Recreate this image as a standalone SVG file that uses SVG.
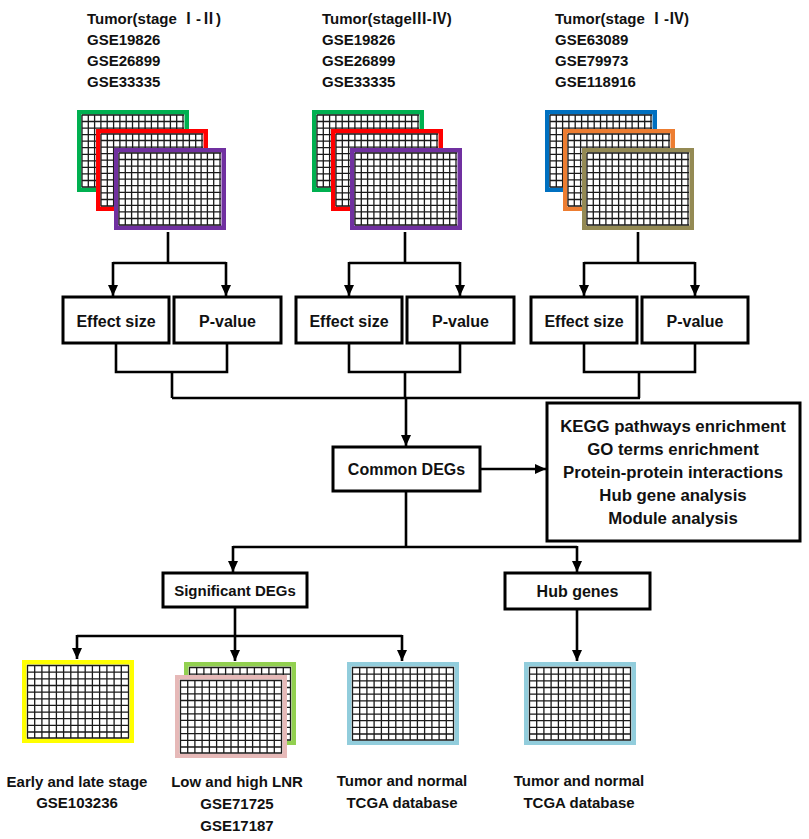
<svg xmlns="http://www.w3.org/2000/svg" xmlns:xlink="http://www.w3.org/1999/xlink" width="809" height="839" viewBox="0 0 809 839">
<style>
text{font-family:"Liberation Sans","Noto Sans CJK SC",Arial,sans-serif;font-weight:bold;fill:#111;}
.lbl{font-size:15px;}
.box{fill:#fff;stroke:#000;stroke-width:3;}
.bt{font-size:16px;text-anchor:middle;}
.kt{font-size:16.8px;text-anchor:middle;}
.c{fill:none;stroke:#000;stroke-width:2.6;}
.a{fill:none;stroke:#000;stroke-width:2.6;marker-end:url(#ah);}
.gl{fill:none;stroke:#1a1a1a;stroke-width:1.3;}
.fr{fill:#fff;stroke:currentColor;stroke-width:4.5;}
</style>
<defs>
<marker id="ah" markerUnits="userSpaceOnUse" markerWidth="11" markerHeight="10" viewBox="0 0 11 10" refX="11" refY="5" orient="auto">
<path d="M0,0 L11,5 L0,10 z" fill="#000"/>
</marker>
<symbol id="g16" viewBox="0 0 112 82">
<rect class="fr" x="2.25" y="2.25" width="107.5" height="77.5"/>
<path class="gl" d="M5,5V77M11.3,5V77M17.6,5V77M23.9,5V77M30.2,5V77M36.6,5V77M42.9,5V77M49.2,5V77M55.5,5V77M61.8,5V77M68.1,5V77M74.4,5V77M80.8,5V77M87.1,5V77M93.4,5V77M99.7,5V77M106,5V77M5,5H107M5,11.5H107M5,18.1H107M5,24.6H107M5,31.2H107M5,37.7H107M5,44.3H107M5,50.8H107M5,57.4H107M5,63.9H107M5,70.5H107M5,77H107"/>
</symbol>
<symbol id="g14" viewBox="0 0 112 83">
<rect class="fr" x="2.25" y="2.25" width="107.5" height="78.5"/>
<path class="gl" d="M5.5,5V78M12.7,5V78M19.9,5V78M27.1,5V78M34.4,5V78M41.6,5V78M48.8,5V78M56,5V78M63.2,5V78M70.4,5V78M77.6,5V78M84.9,5V78M92.1,5V78M99.3,5V78M106.5,5V78M5,5.5H107M5,12.2H107M5,18.8H107M5,25.5H107M5,32.1H107M5,38.8H107M5,45.4H107M5,52.1H107M5,58.7H107M5,65.4H107M5,72H107M5,78H107"/>
</symbol>
</defs>
<rect width="809" height="839" fill="#fff"/>

<g id="set1">
<text class="lbl" x="87" y="24">Tumor(stage Ⅰ-Ⅱ)</text>
<text class="lbl" x="87" y="45">GSE19826</text>
<text class="lbl" x="87" y="66">GSE26899</text>
<text class="lbl" x="87" y="87">GSE33335</text>
<use xlink:href="#g16" x="77" y="110" width="112" height="82" color="#00B050"/>
<use xlink:href="#g16" x="96" y="129" width="112" height="82" color="#FF0000"/>
<use xlink:href="#g16" x="114" y="148" width="112" height="82" color="#7030A0"/>
</g>
<g id="set2">
<text class="lbl" x="322" y="24">Tumor(stageⅢ-Ⅳ)</text>
<text class="lbl" x="322" y="45">GSE19826</text>
<text class="lbl" x="322" y="66">GSE26899</text>
<text class="lbl" x="322" y="87">GSE33335</text>
<use xlink:href="#g16" x="312" y="110" width="112" height="82" color="#00B050"/>
<use xlink:href="#g16" x="331" y="129" width="112" height="82" color="#FF0000"/>
<use xlink:href="#g16" x="350" y="148" width="112" height="82" color="#7030A0"/>
</g>
<g id="set3">
<text class="lbl" x="555" y="24">Tumor(stage Ⅰ-Ⅳ)</text>
<text class="lbl" x="555" y="45">GSE63089</text>
<text class="lbl" x="555" y="66">GSE79973</text>
<text class="lbl" x="555" y="87">GSE118916</text>
<use xlink:href="#g16" x="545" y="110" width="112" height="82" color="#0070C0"/>
<use xlink:href="#g16" x="563" y="129" width="112" height="82" color="#ED7D31"/>
<use xlink:href="#g16" x="582" y="148" width="112" height="82" color="#948A54"/>
</g>

<g id="es1"><rect class="box" x="63" y="297" width="106" height="46"/><text class="bt" x="116" y="327">Effect size</text></g>
<g id="pv1"><rect class="box" x="174" y="297" width="107" height="46"/><text class="bt" x="227.5" y="327">P-value</text></g>
<g id="es2"><rect class="box" x="296" y="297" width="106" height="46"/><text class="bt" x="349" y="327">Effect size</text></g>
<g id="pv2"><rect class="box" x="407" y="297" width="107" height="46"/><text class="bt" x="460.5" y="327">P-value</text></g>
<g id="es3"><rect class="box" x="531" y="297" width="106" height="46"/><text class="bt" x="584" y="327">Effect size</text></g>
<g id="pv3"><rect class="box" x="642" y="297" width="106" height="46"/><text class="bt" x="695" y="327">P-value</text></g>

<g id="common"><rect class="box" x="333" y="447" width="147" height="44"/><text class="bt" x="406.5" y="475">Common DEGs</text></g>
<g id="analysis"><rect class="box" x="547" y="403" width="253" height="138"/>
<text class="kt" x="673" y="432">KEGG pathways enrichment</text>
<text class="kt" x="673" y="455">GO terms enrichment</text>
<text class="kt" x="673" y="478">Protein-protein interactions</text>
<text class="kt" x="673" y="501">Hub gene analysis</text>
<text class="kt" x="673" y="524">Module analysis</text>
</g>
<g id="sig"><rect class="box" x="163" y="573" width="144" height="34"/><text class="bt" x="235" y="596" style="font-size:15px">Significant DEGs</text></g>
<g id="hub"><rect class="box" x="505" y="573" width="145" height="36"/><text class="bt" x="577.5" y="597">Hub genes</text></g>

<g id="early">
<use xlink:href="#g14" x="22" y="660" width="112" height="83" color="#FFFF00"/>
<text class="lbl" x="77" y="787" text-anchor="middle">Early and late stage</text>
<text class="lbl" x="77" y="808" text-anchor="middle">GSE103236</text>
</g>
<g id="lnr">
<use xlink:href="#g14" x="184" y="662" width="112" height="83" color="#92D050"/>
<use xlink:href="#g14" x="175" y="675" width="112" height="83" color="#E6B9B8"/>
<text class="lbl" x="237" y="787" text-anchor="middle">Low and high LNR</text>
<text class="lbl" x="237" y="809" text-anchor="middle">GSE71725</text>
<text class="lbl" x="237" y="831" text-anchor="middle">GSE17187</text>
</g>
<g id="tcga1">
<use xlink:href="#g14" x="347" y="662" width="112" height="83" color="#92CDDC"/>
<text class="lbl" x="402" y="786" text-anchor="middle">Tumor and normal</text>
<text class="lbl" x="402" y="808" text-anchor="middle">TCGA database</text>
</g>
<g id="tcga2">
<use xlink:href="#g14" x="524" y="662" width="112" height="83" color="#92CDDC"/>
<text class="lbl" x="579" y="786" text-anchor="middle">Tumor and normal</text>
<text class="lbl" x="579" y="808" text-anchor="middle">TCGA database</text>
</g>

<g id="connectors">
<path class="c" d="M168,232V263M113,263H226M405,232V263M349,263H460M638,232V263M584,263H695"/>
<path class="a" d="M113,262V296"/><path class="a" d="M226,262V296"/>
<path class="a" d="M349,262V296"/><path class="a" d="M460,262V296"/>
<path class="a" d="M584,262V296"/><path class="a" d="M695,262V296"/>
<path class="c" d="M116,343V372H227V343M172,372V398M349,343V372H460V343M405,372V398M584,343V372H695V343M639,372V398M172,398H640"/>
<path class="a" d="M406,397V446"/>
<path class="a" d="M480,469H546"/>
<path class="c" d="M406,491V547M233,547H577"/>
<path class="a" d="M233,546V572"/><path class="a" d="M577,546V572"/>
<path class="c" d="M235,607V636M77,636H402"/>
<path class="a" d="M77,635V659"/><path class="a" d="M235,635V661"/><path class="a" d="M402,635V661"/>
<path class="a" d="M577,609V661"/>
</g>
</svg>
